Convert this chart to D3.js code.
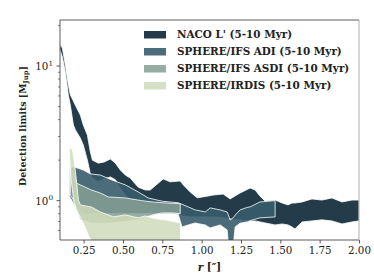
<!DOCTYPE html>
<html>
<head>
<meta charset="utf-8">
<script src="https://cdn.jsdelivr.net/npm/d3@7"></script>
<style>
  body { margin: 0; background: #fff; }
  text { font-family: "DejaVu Serif", serif; fill: #222; }
</style>
</head>
<body>
<div id="chart"></div>
<script>
// separation r (arcsec) and detection limit bands (M_Jup)
const nacoR  = [0.10, 0.115, 0.134, 0.153, 0.166, 0.185, 0.198, 0.229, 0.248, 0.274, 0.293, 0.306, 0.344, 0.382, 0.42, 0.452, 0.483, 0.515, 0.547, 0.597, 0.642, 0.674, 0.705, 0.756, 0.80, 0.864, 0.883, 0.927, 0.972, 1.035, 1.073, 1.137, 1.181, 1.244, 1.308, 1.34, 1.371, 1.403, 1.467, 1.511, 1.549, 1.574, 1.593, 1.638, 1.701, 1.765, 1.828, 1.892, 1.956, 2.00];
const nacoHi = [14.5, 13.6, 10.1, 7.2, 6.1, 5.5, 5.1, 4.33, 3.65, 3.07, 2.3, 2.0, 1.90, 1.94, 2.04, 1.9, 1.69, 1.55, 1.47, 1.26, 1.20, 1.20, 1.29, 1.45, 1.38, 1.40, 1.31, 1.16, 1.05, 1.08, 1.10, 1.12, 1.03, 1.14, 1.24, 1.20, 1.08, 0.995, 1.01, 0.962, 0.93, 0.96, 0.96, 0.978, 1.03, 1.01, 1.047, 0.978, 1.01, 1.01];
const nacoLo = [13.2, 11.7, 9.0, 6.1, 5.1, 3.65, 3.35, 2.92, 2.59, 2.0, 1.58, 1.47, 1.38, 1.45, 1.50, 1.43, 1.24, 1.10, 1.01, 0.96, 0.93, 0.91, 0.90, 0.85, 0.82, 0.78, 0.77, 0.757, 0.757, 0.757, 0.757, 0.745, 0.73, 0.72, 0.707, 0.707, 0.695, 0.683, 0.66, 0.671, 0.66, 0.638, 0.616, 0.695, 0.707, 0.72, 0.707, 0.671, 0.695, 0.707];

const adiR  = [0.16, 0.191, 0.248, 0.293, 0.356, 0.426, 0.515, 0.597, 0.661, 0.75, 0.85, 0.875, 0.915, 0.959, 0.99, 1.023, 1.054, 1.118, 1.162, 1.172, 1.181, 1.20, 1.213, 1.244, 1.289, 1.308, 1.371, 1.467];
const adiHi = [1.75, 1.78, 1.69, 1.58, 1.55, 1.43, 1.31, 1.16, 1.047, 0.99, 0.965, 0.94, 0.898, 0.853, 0.84, 0.824, 0.883, 0.853, 0.824, 0.77, 0.719, 0.745, 0.78, 0.853, 0.89, 0.898, 0.978, 1.0];
const adiLo = [1.08, 0.93, 0.80, 0.80, 0.80, 0.80, 0.80, 0.80, 0.80, 0.80, 0.80, 0.638, 0.66, 0.683, 0.67, 0.66, 0.627, 0.66, 0.606, 0.45, 0.45, 0.45, 0.638, 0.68, 0.695, 0.71, 0.745, 0.757];

const asdiR  = [0.166, 0.185, 0.204, 0.229, 0.299, 0.356, 0.407, 0.515, 0.597, 0.62, 0.686, 0.70, 0.75, 0.82, 0.864];
const asdiHi = [1.75, 1.63, 1.35, 1.31, 1.20, 1.14, 1.065, 1.047, 1.01, 1.0, 0.978, 0.975, 0.965, 0.955, 0.95];
const asdiLo = [1.10, 1.01, 0.88, 0.72, 0.68, 0.68, 0.68, 0.70, 0.72, 0.74, 0.78, 0.79, 0.81, 0.81, 0.80];

const irdR  = [0.160, 0.166, 0.172, 0.179, 0.185, 0.191, 0.204, 0.217, 0.229, 0.261, 0.280, 0.299, 0.306, 0.356, 0.40, 0.439, 0.515, 0.597, 0.642, 0.705, 0.769, 0.813, 0.851, 0.865];
const irdHi = [2.5, 2.45, 2.42, 2.38, 2.15, 1.94, 1.43, 1.01, 0.93, 0.914, 0.905, 0.898, 0.89, 0.824, 0.79, 0.757, 0.783, 0.745, 0.77, 0.735, 0.72, 0.70, 0.69, 0.68];
const irdLo = [2.18, 1.69, 1.38, 1.2, 1.047, 0.97, 0.853, 0.80, 0.757, 0.627, 0.556, 0.5, 0.47, 0.38, 0.33, 0.3, 0.3, 0.3, 0.3, 0.3, 0.3, 0.3, 0.3, 0.3];

const labels = ["NACO L' (5-10 Myr)", "SPHERE/IFS ADI (5-10 Myr)", "SPHERE/IFS ASDI (5-10 Myr)", "SPHERE/IRDIS (5-10 Myr)"];
const xTicks = [0.25, 0.5, 0.75, 1.0, 1.25, 1.5, 1.75, 2.0];
const yMajor = [1, 10];
const yMinor = [0.6, 0.7, 0.8, 0.9, 2, 3, 4, 5, 6, 7, 8, 9, 20];

const bands = [
    { r: nacoR, hi: nacoHi, lo: nacoLo, color: "#243c49", op: 1 },
    { r: adiR, hi: adiHi, lo: adiLo, color: "#395c6d", op: 0.9 },
    { r: asdiR, hi: asdiHi, lo: asdiLo, color: "#859f94", op: 0.85 },
    { r: irdR, hi: irdHi, lo: irdLo, color: "#cfdbba", op: 0.85 }
];

const W = 374, H = 280;
const margin = { top: 20, right: 15, bottom: 40, left: 60 };
const width = W - margin.left - margin.right;
const height = H - margin.top - margin.bottom;

const svg = d3.select("#chart").append("svg")
    .attr("width", W)
    .attr("height", H);

const x = d3.scaleLinear().domain([0.1, 2.0]).range([margin.left, margin.left + width]);
const y = d3.scaleLog().domain([0.51, 22]).range([margin.top + height, margin.top]);

svg.append("clipPath").attr("id", "clip")
    .append("rect")
    .attr("x", margin.left).attr("y", margin.top)
    .attr("width", width).attr("height", height);

const area = d3.area()
    .x(d => x(d[0]))
    .y0(d => y(d[2]))
    .y1(d => y(d[1]));

const plot = svg.append("g").attr("clip-path", "url(#clip)");

bands.forEach(b => {
    const pts = b.r.map((r, i) => [r, b.hi[i], b.lo[i]]);
    plot.append("path")
        .datum(pts)
        .attr("d", area)
        .attr("fill", b.color)
        .attr("fill-opacity", b.op)
        .attr("stroke", "#fff")
        .attr("stroke-width", 0.8)
        .attr("stroke-linejoin", "round");
});

// frame: left/top/bottom dark, right one lighter as in the figure
const x0 = margin.left, x1 = margin.left + width, y0 = margin.top, y1 = margin.top + height;
svg.append("path")
    .attr("d", `M${x1},${y0}H${x0}V${y1}H${x1}`)
    .attr("fill", "none").attr("stroke", "#333").attr("stroke-width", 0.8);
svg.append("line")
    .attr("x1", x1).attr("x2", x1).attr("y1", y0).attr("y2", y1)
    .attr("stroke", "#999").attr("stroke-width", 0.8);

// x axis
const xAxis = svg.append("g")
    .attr("transform", `translate(0,${y1})`)
    .call(d3.axisBottom(x).tickValues(xTicks).tickFormat(d3.format(".2f")).tickSize(3.5).tickPadding(3));
xAxis.select(".domain").remove();
xAxis.selectAll("line").attr("stroke", "#333").attr("stroke-width", 0.8);
xAxis.selectAll("text").attr("font-size", 10.3).attr("font-family", "DejaVu Serif").attr("fill", "#222");

// y axis
const yG = svg.append("g").attr("transform", `translate(${margin.left},0)`);
yG.selectAll(".minor").data(yMinor).enter().append("line")
    .attr("x1", -2).attr("x2", 0)
    .attr("y1", d => y(d)).attr("y2", d => y(d))
    .attr("stroke", "#333").attr("stroke-width", 0.6);
yG.selectAll(".major").data(yMajor).enter().append("line")
    .attr("x1", -3.5).attr("x2", 0)
    .attr("y1", d => y(d)).attr("y2", d => y(d))
    .attr("stroke", "#333").attr("stroke-width", 0.8);
const yl = yG.selectAll(".lab").data(yMajor).enter().append("text")
    .attr("x", -7)
    .attr("y", d => y(d) + 4)
    .attr("text-anchor", "end")
    .attr("font-size", 10.3);
yl.append("tspan").text("10");
yl.append("tspan").attr("font-size", 7.2).attr("dy", -4.5).text(d => Math.round(Math.log10(d)));

// axis labels
const xl = svg.append("text")
    .attr("x", (x0 + x1) / 2)
    .attr("y", 271)
    .attr("text-anchor", "middle")
    .attr("font-size", 10.3)
    .attr("font-weight", "bold");
xl.append("tspan").attr("font-style", "italic").text("r");
xl.append("tspan").text(" [\u2033]");

const ylab = svg.append("text")
    .attr("transform", `translate(26,126) rotate(-90)`)
    .attr("text-anchor", "middle")
    .attr("font-size", 9.4)
    .attr("font-weight", "bold");
ylab.append("tspan").text("Detection limits [M");
ylab.append("tspan").attr("font-size", 6.8).attr("dy", 2.3).text("Jup");
ylab.append("tspan").attr("dy", -2.3).text("]");

// legend
const leg = svg.append("g");
labels.forEach((l, i) => {
    const cy = 34.5 + i * 17;
    leg.append("rect")
        .attr("x", 144).attr("y", cy - 3.5)
        .attr("width", 22).attr("height", 7.5)
        .attr("fill", bands[i].color)
        .attr("fill-opacity", bands[i].op);
    leg.append("text")
        .attr("x", 177).attr("y", cy + 3.8)
        .attr("font-size", 10.4)
        .attr("font-weight", "bold")
        .text(l);
});
</script>
</body>
</html>
